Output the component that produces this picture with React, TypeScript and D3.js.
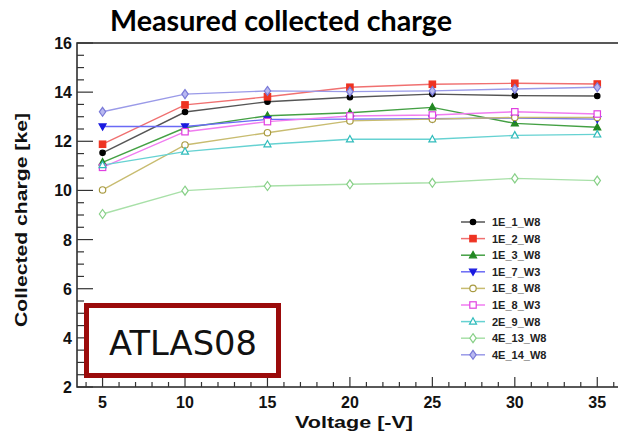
import React from "react";
import * as d3 from "d3";

const voltages = [5, 10, 15, 20, 25, 30, 35];
const seriesNames = ["1E_1_W8", "1E_2_W8", "1E_3_W8", "1E_7_W3", "1E_8_W8", "1E_8_W3", "2E_9_W8", "4E_13_W8", "4E_14_W8"];
const s1E_1_W8 = [11.53, 13.19, 13.61, 13.79, 13.92, 13.86, 13.84];
const s1E_2_W8 = [11.88, 13.48, 13.81, 14.2, 14.32, 14.36, 14.33];
const s1E_3_W8 = [11.14, 12.55, 13.04, 13.16, 13.38, 12.73, 12.57];
const s1E_7_W3 = [12.6, 12.6, 12.89, 12.9, 12.92, 12.95, 12.9];
const s1E_8_W8 = [10.02, 11.85, 12.35, 12.83, 12.9, 12.97, 12.97];
const s1E_8_W3 = [10.94, 12.39, 12.8, 13.03, 13.07, 13.2, 13.11];
const s2E_9_W8 = [11.03, 11.58, 11.88, 12.08, 12.08, 12.24, 12.28];
const s4E_13_W8 = [9.04, 9.99, 10.18, 10.25, 10.31, 10.49, 10.4];
const s4E_14_W8 = [13.2, 13.92, 14.05, 14.02, 14.05, 14.13, 14.2];
const seriesValues = [s1E_1_W8, s1E_2_W8, s1E_3_W8, s1E_7_W3, s1E_8_W8, s1E_8_W3, s2E_9_W8, s4E_13_W8, s4E_14_W8];
const xTicks = [5, 10, 15, 20, 25, 30, 35];
const yTicks = [2, 4, 6, 8, 10, 12, 14, 16];

type Style = { line: string; marker: string; shape: string; filled: boolean };
const styles: Style[] = [
  { line: "#555555", marker: "#000000", shape: "circle", filled: true },
  { line: "#f07070", marker: "#ee3322", shape: "square", filled: true },
  { line: "#44a044", marker: "#228822", shape: "triangle", filled: true },
  { line: "#6a6af5", marker: "#1a1ae0", shape: "triangleDown", filled: true },
  { line: "#c8bc70", marker: "#a89a40", shape: "circle", filled: false },
  { line: "#f07cf0", marker: "#e040e0", shape: "square", filled: false },
  { line: "#66d2d2", marker: "#30bcbc", shape: "triangle", filled: false },
  { line: "#a8e0a8", marker: "#88d088", shape: "diamond", filled: false },
  { line: "#9a9ae8", marker: "#7a7ad8", shape: "diamond", filled: true },
];

const W = 618;
const H = 435;
const left = 77;
const top = 43;
const bottom = 387;
const right = 622;

const x = d3.scaleLinear().domain([3.45, 36.5]).range([left, right]);
const y = d3.scaleLinear().domain([2, 16]).range([bottom, top]);

function Marker({ cx, cy, s }: { cx: number; cy: number; s: Style }) {
  const fill = s.filled ? (s.shape === "diamond" ? "#b8b8f0" : s.marker) : "white";
  const sw = 1.2;
  switch (s.shape) {
    case "circle":
      return <circle cx={cx} cy={cy} r={s.filled ? 2.7 : 3.2} fill={fill} stroke={s.marker} strokeWidth={sw} />;
    case "square":
      return <rect x={cx - 3.2} y={cy - 3.2} width={6.4} height={6.4} fill={fill} stroke={s.marker} strokeWidth={sw} />;
    case "triangle":
      return <path d={`M${cx},${cy - 3.8}L${cx + 3.5},${cy + 2.6}L${cx - 3.5},${cy + 2.6}Z`} fill={fill} stroke={s.marker} strokeWidth={sw} />;
    case "triangleDown":
      return <path d={`M${cx},${cy + 3.6}L${cx + 3.5},${cy - 2.6}L${cx - 3.5},${cy - 2.6}Z`} fill={fill} stroke={s.marker} strokeWidth={sw} />;
    default:
      return <path d={`M${cx},${cy - 4.5}L${cx + 3.2},${cy}L${cx},${cy + 4.5}L${cx - 3.2},${cy}Z`} fill={fill} stroke={s.marker} strokeWidth={sw} />;
  }
}

export default function App() {
  const line = d3.line<number>().x((_, i) => x(voltages[i])).y((d) => y(d));
  const yMinor = d3.range(2, 16.01, 0.5);
  const xMinor = d3.range(4, 36.01, 1);
  const legendX = 461;
  const legendY0 = 222;
  const legendDy = 16.6;
  return (
    <svg width={W} height={H} style={{ position: "absolute", left: 0, top: 0, background: "white" }}>
      <rect x={0} y={0} width={W} height={H} fill="white" />
      <text x={281} y={31} textAnchor="middle" textLength={342} lengthAdjust="spacingAndGlyphs" fontFamily="Lato, 'Open Sans', sans-serif" fontWeight={700} fontSize={28} fill="#000">
        Measured collected charge
      </text>
      {/* frame */}
      <rect x={left} y={top} width={right - left} height={bottom - top} fill="none" stroke="#222" strokeWidth={1.5} />
      {/* y ticks */}
      {yMinor.map((v) => {
        const major = Math.abs(v - Math.round(v / 2) * 2) < 1e-6;
        return <line key={"ym" + v} x1={left} x2={left + (major ? 16 : 7)} y1={y(v)} y2={y(v)} stroke="#333" strokeWidth={1.2} />;
      })}
      {yTicks.map((v) => (
        <text key={"yt" + v} x={72} y={y(v) + 6} textAnchor="end" fontFamily="'Liberation Sans', Arial, sans-serif" fontWeight={700} fontSize={16} fill="#111">
          {v}
        </text>
      ))}
      {/* x ticks */}
      {xMinor.map((v) => {
        const major = v % 5 === 0;
        return <line key={"xm" + v} x1={x(v)} x2={x(v)} y1={bottom} y2={bottom - (major ? 10 : 5)} stroke="#333" strokeWidth={1.2} />;
      })}
      {xTicks.map((v) => (
        <text key={"xt" + v} x={x(v)} y={408} textAnchor="middle" fontFamily="'Liberation Sans', Arial, sans-serif" fontWeight={700} fontSize={16} fill="#111">
          {v}
        </text>
      ))}
      <text x={354} y={428} textAnchor="middle" textLength={118} lengthAdjust="spacingAndGlyphs" fontFamily="'Liberation Sans', Arial, sans-serif" fontWeight={700} fontSize={17} fill="#111">
        Voltage [-V]
      </text>
      <text transform={`translate(27,220) rotate(-90)`} textAnchor="middle" textLength={214} lengthAdjust="spacingAndGlyphs" fontFamily="'Liberation Sans', Arial, sans-serif" fontWeight={700} fontSize={17} fill="#111">
        Collected charge [ke]
      </text>
      {/* series */}
      {seriesValues.map((vals, k) => (
        <path key={"l" + k} d={line(vals) || ""} fill="none" stroke={styles[k].line} strokeWidth={1.4} />
      ))}
      {seriesValues.map((vals, k) => (
        <g key={"m" + k}>
          {vals.map((v, i) => (
            <Marker key={i} cx={x(voltages[i])} cy={y(v)} s={styles[k]} />
          ))}
        </g>
      ))}
      {/* legend */}
      {seriesNames.map((name, k) => {
        const ly = legendY0 + k * legendDy;
        return (
          <g key={"lg" + k}>
            <line x1={legendX} x2={legendX + 24} y1={ly} y2={ly} stroke={styles[k].line} strokeWidth={1.5} />
            <Marker cx={legendX + 12} cy={ly} s={styles[k]} />
            <text x={legendX + 31} y={ly + 4} fontFamily="'Liberation Sans', Arial, sans-serif" fontWeight={700} fontSize={11} fill="#222">
              {name}
            </text>
          </g>
        );
      })}
      {/* ATLAS08 box */}
      <rect x={86.5} y={305.5} width={192} height={70} fill="white" stroke="#9b0b0b" strokeWidth={5} />
      <text x={183} y={355} textAnchor="middle" textLength={148} lengthAdjust="spacingAndGlyphs" fontFamily="'DejaVu Sans', sans-serif" fontWeight={400} fontSize={33} fill="#111">
        ATLAS08
      </text>
    </svg>
  );
}
